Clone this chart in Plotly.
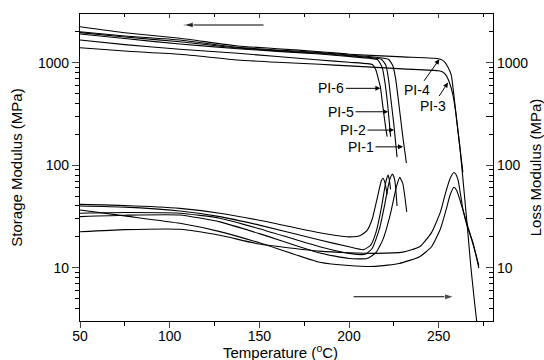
import plotly.graph_objects as go
import numpy as np

# ---------------- data ----------------
# Storage modulus E' (MPa) vs temperature (C)
T_pi1 = [50, 75, 105.7, 138, 160, 183.7, 200, 215, 222, 224.5, 226, 228, 230, 232]
E_pi1 = [2005, 1820, 1663, 1410, 1330, 1253, 1190, 1130, 1080, 930, 700, 370, 190, 105]

T_pi2 = [50, 75, 105.7, 138, 160, 183.7, 200, 212, 218, 220.5, 222, 223.5, 225, 226.8]
E_pi2 = [1963, 1780, 1603, 1390, 1310, 1236, 1170, 1120, 1080, 950, 700, 420, 250, 120]

T_pi5 = [50, 75, 105.7, 138, 160, 183.7, 200, 212, 216, 218.5, 220, 221.5, 222.5, 223.2]
E_pi5 = [1905, 1720, 1521, 1370, 1290, 1216, 1150, 1100, 1070, 900, 650, 400, 260, 190]

T_pi6 = [50, 75, 105.7, 138, 160, 183.7, 200, 210, 213, 215, 216.5, 217.5, 219, 220.5, 221.3]
E_pi6 = [1664, 1500, 1351, 1235, 1150, 1063, 1010, 980, 960, 850, 680, 580, 360, 230, 190]

T_pi4 = [50, 75, 105.7, 138, 160, 183.7, 200, 230, 248, 251, 253, 255, 257, 258.5, 260, 262, 264, 266, 268, 270, 271.5]
E_pi4 = [2245, 1960, 1730, 1456, 1370, 1280, 1210, 1140, 1104, 1080, 1030, 920, 760, 480, 280, 140, 60, 25, 10, 4.6, 2.7]

T_pi3 = [50, 75, 105.7, 138, 160, 183.7, 200, 230, 250, 252, 254, 256, 258, 259.5, 261, 262.5, 263.5]
E_pi3 = [1400, 1300, 1208, 1062, 1010, 964, 930, 870, 835, 815, 760, 640, 480, 330, 200, 120, 85]

# Loss modulus E'' (MPa) vs temperature (C)
Tl_pi6 = [50, 75, 105.7, 128, 150, 183.7, 200, 206, 210, 213, 216, 218, 219, 220, 221.3]
G_pi6 = [41.5, 40.5, 37.9, 34, 29, 21.9, 20, 20.5, 23, 30, 50, 70, 74.5, 68, 52]

Tl_pi5 = [50, 75, 105.7, 128, 150, 183.7, 200, 208, 212, 215, 218, 220.5, 221.8, 222.5, 223.2]
G_pi5 = [40, 39, 35.7, 31.5, 26, 18.6, 16, 15, 16.5, 22, 38, 68, 80, 72, 58]

Tl_pi2 = [50, 75, 105.7, 128, 150, 183.7, 200, 209, 213, 217, 220, 222.5, 224.2, 225.5, 226.8]
G_pi2 = [34, 34.5, 34, 30.4, 24, 16, 13.8, 13.5, 15.5, 24, 42, 70, 82, 72, 40]

Tl_pi1 = [50, 75, 105.7, 128, 150, 183.7, 200, 210, 215, 219, 223, 226.5, 228.3, 230, 232.2]
G_pi1 = [31.5, 32.5, 32.7, 28, 21.5, 13.9, 12.3, 12.3, 14, 19, 33, 62, 76, 66, 35]

Tl_pi3 = [50, 75, 105.7, 128, 150, 183.7, 200, 215, 228, 239.4, 246, 251, 254, 256.5, 258.5, 260, 262, 265, 268, 271, 272.4]
G_pi3 = [36.6, 32, 27.1, 22.5, 17.5, 11.3, 10.5, 10.3, 11, 12.8, 16, 24, 36, 52, 61, 57, 45, 30, 20, 13, 10.5]

Tl_pi4 = [50, 75, 105.7, 128, 150, 183.7, 200, 215, 230, 239.4, 246, 251, 254, 256.5, 258.5, 259.5, 260.8, 263.6, 266, 269.2, 272.4]
G_pi4 = [22.4, 23.5, 23.7, 20.7, 17, 14.5, 14, 13.8, 14.2, 16, 22, 35, 55, 75, 85, 82, 72, 36.6, 25, 17.4, 9.9]

storage = [("PI-1", T_pi1, E_pi1), ("PI-2", T_pi2, E_pi2), ("PI-3", T_pi3, E_pi3),
           ("PI-4", T_pi4, E_pi4), ("PI-5", T_pi5, E_pi5), ("PI-6", T_pi6, E_pi6)]
loss = [("PI-1", Tl_pi1, G_pi1), ("PI-2", Tl_pi2, G_pi2), ("PI-3", Tl_pi3, G_pi3),
        ("PI-4", Tl_pi4, G_pi4), ("PI-5", Tl_pi5, G_pi5), ("PI-6", Tl_pi6, G_pi6)]

# label arrows: name, tip temperature, tip modulus, text offset (px)
labels = [("PI-6", 217.5, 562, -49, 0), ("PI-5", 221.8, 332, -47, 0),
          ("PI-2", 225.1, 220, -41, 0), ("PI-1", 230.1, 151, -42, 0),
          ("PI-4", 250.4, 1080, -22, 31), ("PI-3", 255.2, 640, -15, 23)]

# direction arrows (tail -> head): temperature pairs and modulus level
arrow_storage_T = [152.3, 107.9]
arrow_storage_E = [2334, 2334]
arrow_loss_T = [202.6, 258.6]
arrow_loss_E = [5.2, 5.2]

x_ticks = [50, 100, 150, 200, 250]
x_minor = [75, 125, 175, 225, 275]
y_ticks = [10, 100, 1000]
y2_extra_ticks = [30, 300]

FONT = "Liberation Sans, Arial, sans-serif"
fig = go.Figure()

for name, t, e in storage:
    fig.add_trace(go.Scatter(x=t, y=e, mode="lines", name=name + " E'",
                             line=dict(color="black", width=1.1, shape="spline", smoothing=0.5),
                             showlegend=False))
for name, t, g in loss:
    fig.add_trace(go.Scatter(x=t, y=g, mode="lines", name=name + " E''", yaxis="y2",
                             line=dict(color="black", width=1.1, shape="spline", smoothing=0.5),
                             showlegend=False))

for at, ae in [(arrow_storage_T, arrow_storage_E), (arrow_loss_T, arrow_loss_E)]:
    fig.add_trace(go.Scatter(x=at, y=ae, mode="lines+markers", showlegend=False,
                             line=dict(color="black", width=1.1),
                             marker=dict(symbol="arrow", angleref="previous", size=[0, 10],
                                         color="black")))

# invisible traces to drive the top mirror axis and the extra right ticks
fig.add_trace(go.Scatter(x=[50, 280], y=[None, None], xaxis="x2", yaxis="y", showlegend=False))
fig.add_trace(go.Scatter(x=[None, None], y=[10, 1000], xaxis="x", yaxis="y3", showlegend=False,
                         mode="lines", line=dict(width=0)))

annotations = []
for name, tx, ty, ax, ay in labels:
    annotations.append(dict(x=tx, y=np.log10(ty), xref="x", yref="y", text=name,
                            showarrow=True, ax=ax, ay=ay, arrowhead=2, arrowsize=1,
                            arrowwidth=1, arrowcolor="black", standoff=0, startstandoff=0,
                            font=dict(family=FONT, size=14, color="black")))
annotations.append(dict(x=(280 - 80) / 413, y=(321 - 351) / 307, xref="paper", yref="paper",
                        text="Temperature (<sup>o</sup>C)", showarrow=False,
                        xanchor="center", yanchor="middle",
                        font=dict(family=FONT, size=15, color="black")))

minor_vals = [m * 10 ** d for d in range(0, 4) for m in range(2, 10)]

fig.update_layout(
    width=544, height=360,
    margin=dict(l=80, r=51, t=14, b=39),
    paper_bgcolor="white", plot_bgcolor="white",
    font=dict(family=FONT, size=14, color="black"),
    annotations=annotations,
    xaxis=dict(range=[50, 280.3], tickvals=x_ticks, ticks="outside",
               ticklen=6, tickwidth=1, showline=True, linecolor="black", linewidth=1.2,
               showgrid=False, zeroline=False, automargin=False, ticklabelstandoff=-4,
               minor=dict(tickvals=x_minor, ticks="outside", ticklen=4,
                          tickwidth=1, tickcolor="black", showgrid=False)),
    xaxis2=dict(range=[50, 280.3], overlaying="x", side="top", tickvals=x_ticks,
                ticks="inside", ticklen=4, showticklabels=False, showline=True,
                linecolor="black", linewidth=1.2, showgrid=False, zeroline=False, automargin=False,
                minor=dict(tickvals=x_minor, ticks="inside", ticklen=3,
                           tickcolor="black", showgrid=False)),
    yaxis=dict(type="log", range=[0.48, 3.475], tickvals=y_ticks,
               ticktext=[str(v) for v in y_ticks], ticks="outside", ticklen=7, tickwidth=1,
               showline=True, linecolor="black", linewidth=1.2, showgrid=False, zeroline=False,
               automargin=False,
               minor=dict(tickvals=minor_vals, ticks="outside", ticklen=4, tickwidth=1,
                          tickcolor="black", showgrid=False),
               title=dict(text="Storage Modulus (MPa)", standoff=11,
                          font=dict(family=FONT, size=15))),
    yaxis2=dict(type="log", range=[0.48, 3.475], overlaying="y", side="right",
                tickvals=y_ticks, ticktext=[str(v) for v in y_ticks],
                ticks="inside", ticklen=7, tickwidth=1, showline=True, linecolor="black",
                linewidth=1.2, showgrid=False, zeroline=False, automargin=False,
                minor=dict(tickvals=minor_vals, ticks="inside", ticklen=4, tickwidth=1,
                           tickcolor="black", showgrid=False),
                title=dict(text="Loss Modulus (MPa)", standoff=3,
                           font=dict(family=FONT, size=15))),
    yaxis3=dict(type="log", range=[0.48, 3.475], overlaying="y", side="right",
                tickvals=y2_extra_ticks, ticks="inside", ticklen=7, tickwidth=1,
                tickcolor="black", showticklabels=False, showline=False, showgrid=False,
                zeroline=False, automargin=False),
)

fig.write_html("out.html")
